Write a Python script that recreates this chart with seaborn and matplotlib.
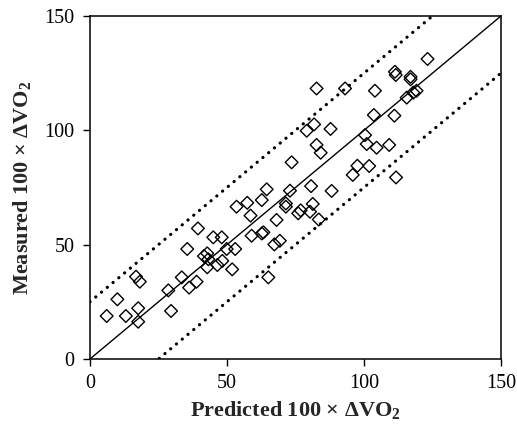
import matplotlib
matplotlib.use("Agg")
import matplotlib.pyplot as plt
import numpy as np
import pandas as pd
import seaborn as sns

# predicted vs measured (100 x dVO2)
predicted = [6.1, 10.0, 13.1, 17.6, 17.6, 16.8, 18.2, 28.6, 29.6, 33.5,
             36.2, 38.9, 35.5, 39.4, 41.6, 42.8, 43.2, 42.8, 45.0, 46.5,
             48.3, 48.1, 49.9, 51.9, 53.0, 53.5, 57.4, 58.6, 59.0, 62.7,
             63.3, 62.7, 64.5, 65.1, 67.3, 68.1, 69.3, 71.5, 71.5, 73.0,
             73.6, 76.0, 76.9, 80.3, 80.7, 81.3, 83.5, 88.2, 79.1, 81.8,
             82.7, 82.7, 84.2, 87.8, 93.1, 95.9, 97.6, 100.4, 101.0, 101.9,
             103.6, 104.0, 104.6, 109.2, 111.1, 111.3, 111.6, 111.7, 115.6, 117.0,
             117.0, 118.0, 119.2, 123.2]
measured = [18.8, 26.1, 18.8, 22.2, 16.3, 36.0, 33.8, 30.0, 21.0, 35.7,
            31.2, 33.8, 48.1, 57.1, 45.0, 46.2, 43.6, 40.1, 53.2, 41.1,
            42.9, 53.2, 48.1, 39.2, 48.1, 66.6, 68.3, 62.7, 53.9, 69.5,
            55.4, 54.9, 74.2, 35.7, 50.1, 60.8, 51.7, 68.0, 66.6, 73.6,
            86.0, 63.7, 65.0, 64.4, 75.6, 67.8, 61.0, 73.5, 99.8, 102.6,
            118.3, 93.6, 90.2, 100.6, 118.3, 80.5, 84.5, 97.9, 94.0, 84.4,
            106.7, 117.3, 92.4, 93.6, 106.4, 125.6, 124.2, 79.4, 114.3, 123.4,
            122.3, 116.5, 117.3, 131.2]

line_x = [0, 150]
band = 25
ticks = [0, 50, 100, 150]

df = pd.DataFrame({"pred": predicted, "meas": measured})

sns.set_style("white")
plt.rcParams["font.family"] = ["Liberation Serif", "DejaVu Serif"]
plt.rcParams["mathtext.fontset"] = "custom"
plt.rcParams["mathtext.rm"] = "Liberation Serif"
plt.rcParams["mathtext.bf"] = "Liberation Serif:bold"

fig = plt.figure(figsize=(5.17, 4.32), dpi=100)
ax = fig.add_axes([0.174, 0.169, 0.795, 0.794])

lx = np.array(line_x, dtype=float)
ax.plot(lx, lx, color="black", lw=1.0)
ax.plot(lx, lx + band, color="black", lw=2.3, ls=(0, (0.05, 2.3)),
        dash_capstyle="round")
ax.plot(lx, lx - band, color="black", lw=2.3, ls=(0, (0.05, 2.3)),
        dash_capstyle="round")

sns.scatterplot(data=df, x="pred", y="meas", marker="D", s=42,
                facecolors="none", edgecolor="black", linewidth=1.0, ax=ax)

ax.set_xlim(0, 150)
ax.set_ylim(0, 150)
ax.set_xticks(ticks)
ax.set_yticks(ticks)
ax.tick_params(direction="out", length=5, width=1, labelsize=14.5,
               colors="black", pad=6, bottom=True, left=True)
for sp in ax.spines.values():
    sp.set_visible(True)
    sp.set_color("black")
    sp.set_linewidth(1.1)

ax.set_xlabel(r"Predicted 100 × ΔVO$\mathbf{_2}$", fontsize=16,
              fontweight="bold", labelpad=4)
ax.set_ylabel(r"Measured 100 × ΔVO$\mathbf{_2}$", fontsize=16,
              fontweight="bold", labelpad=8)

fig.savefig("out.png", dpi=100)
